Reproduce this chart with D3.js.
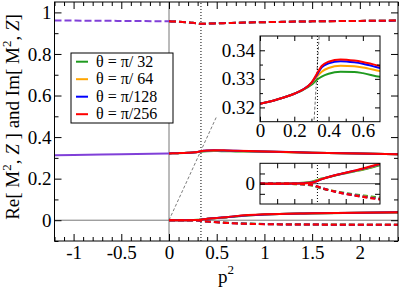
<!DOCTYPE html>
<html lang="en">
<head>
<meta charset="utf-8">
<title>Re and Im of M2, Z vs p2</title>
<script src="https://d3js.org/d3.v7.min.js"></script>
<style>
  body { margin: 0; background: #fff; }
  svg, svg text, svg g { font-family: "Liberation Serif", serif; }
  .tick text { fill: #000; }
  .legend text { white-space: pre; }
</style>
</head>
<body>
<script>
// ---- data ----
var thetaLabels = ["θ = π/ 32", "θ = π/ 64", "θ = π/128", "θ = π/256"];

// p^2 < 0 : all theta coincide
var p2Neg   = [-1.2, -1, -0.5, 0];
var reM2Neg = [0.313, 0.314, 0.318, 0.3213];
var imM2Neg = [0.961, 0.9605, 0.959, 0.957];

// p^2 >= 0
var p2 = [0, 0.1, 0.2, 0.25, 0.3, 0.33, 0.36, 0.4, 0.47, 0.55, 0.6, 0.7, 1, 1.5, 2, 2.4];

var reM2_32  = [0.3213, 0.3228, 0.3248, 0.3261, 0.3279, 0.3296, 0.3308, 0.3318, 0.3325, 0.3324, 0.3320, 0.3307, 0.3295, 0.3245, 0.3205, 0.3175];
var reM2_64  = [0.3213, 0.3228, 0.3248, 0.3262, 0.3284, 0.3306, 0.3325, 0.3338, 0.3346, 0.3344, 0.3340, 0.3327, 0.3302, 0.3248, 0.3207, 0.3177];
var reM2_128 = [0.3213, 0.3228, 0.3248, 0.3262, 0.3286, 0.3312, 0.3340, 0.3354, 0.3362, 0.3358, 0.3353, 0.3338, 0.3308, 0.3250, 0.3209, 0.3178];
var reM2_256 = [0.3213, 0.3228, 0.3248, 0.3262, 0.3287, 0.3316, 0.3345, 0.3360, 0.3368, 0.3364, 0.3359, 0.3345, 0.3310, 0.3252, 0.3210, 0.3180];

var imM2_32  = [0.957, 0.955, 0.952, 0.950, 0.947, 0.9455, 0.9455, 0.9462, 0.9472, 0.9482, 0.9488, 0.950, 0.9530, 0.9568, 0.9590, 0.9608];
var imM2_64  = [0.957, 0.955, 0.952, 0.950, 0.947, 0.9452, 0.9452, 0.9460, 0.9470, 0.9480, 0.9487, 0.950, 0.9530, 0.9568, 0.9590, 0.9608];
var imM2_128 = [0.957, 0.955, 0.952, 0.950, 0.947, 0.9450, 0.9450, 0.9458, 0.9469, 0.9480, 0.9486, 0.950, 0.9530, 0.9568, 0.9590, 0.9608];
var imM2_256 = [0.957, 0.955, 0.952, 0.950, 0.947, 0.9448, 0.9450, 0.9458, 0.9468, 0.9479, 0.9486, 0.950, 0.9530, 0.9568, 0.9590, 0.9610];

var reZ_32  = [0, 0.0001, 0.0004, 0.0009, 0.0020, 0.0034, 0.0050, 0.0066, 0.0093, 0.0120, 0.0136, 0.0180, 0.0275, 0.0328, 0.0358, 0.0375];
var reZ_64  = [0, 0.0000, 0.0003, 0.0007, 0.0015, 0.0028, 0.0047, 0.0066, 0.0094, 0.0123, 0.0141, 0.0188, 0.0278, 0.0330, 0.0360, 0.0377];
var reZ_128 = [0, 0.0000, 0.0002, 0.0005, 0.0011, 0.0024, 0.0045, 0.0065, 0.0095, 0.0126, 0.0145, 0.0193, 0.0280, 0.0331, 0.0361, 0.0378];
var reZ_256 = [0, 0.0000, 0.0001, 0.0004, 0.0009, 0.0022, 0.0044, 0.0065, 0.0096, 0.0128, 0.0148, 0.0197, 0.0282, 0.0332, 0.0362, 0.0380];

var imZ_32  = [0, -0.0001, -0.0004, -0.0008, -0.0018, -0.0033, -0.0048, -0.0062, -0.0085, -0.0106, -0.0117, -0.0138, -0.0180, -0.0203, -0.0213, -0.0218];
var imZ_64  = [0, -0.0000, -0.0003, -0.0006, -0.0014, -0.0028, -0.0045, -0.0062, -0.0088, -0.0111, -0.0123, -0.0147, -0.0186, -0.0207, -0.0216, -0.0221];
var imZ_128 = [0, -0.0000, -0.0002, -0.0005, -0.0011, -0.0026, -0.0044, -0.0063, -0.0090, -0.0114, -0.0127, -0.0152, -0.0189, -0.0209, -0.0218, -0.0222];
var imZ_256 = [0, -0.0000, -0.0001, -0.0004, -0.0009, -0.0025, -0.0043, -0.0063, -0.0091, -0.0116, -0.0130, -0.0155, -0.0191, -0.0210, -0.0219, -0.0223];

var pStar = 0.335;   // dotted vertical marker

// styles
var FONT = "Liberation Serif";
var colors = ["#1f9a1f", "#ffa500", "#0000ff", "#ff0000"];
var negColor = "#8040d8";

var reM2 = [reM2_32, reM2_64, reM2_128, reM2_256];
var imM2 = [imM2_32, imM2_64, imM2_128, imM2_256];
var reZ  = [reZ_32, reZ_64, reZ_128, reZ_256];
var imZ  = [imZ_32, imZ_64, imZ_128, imZ_256];

function pts(xs, ys) { return xs.map(function(v, i) { return [v, ys[i]]; }); }

var W = 399, H = 288;
var svg = d3.select("body").append("svg").attr("width", W).attr("height", H)
  .attr("font-family", FONT);

// ---- main panel ----
var x = d3.scaleLinear().domain([-1.2, 2.4]).range([54.5, 398]);
var y = d3.scaleLinear().domain([-0.1, 1.05]).range([241, 2]);

svg.append("clipPath").attr("id", "clipMain").append("rect")
  .attr("x", x.range()[0]).attr("y", y.range()[1])
  .attr("width", x.range()[1] - x.range()[0]).attr("height", y.range()[0] - y.range()[1]);

// inward ticks on all four sides, labels bottom/left, then the frame
function ticks(g, xs, ys, o) {
  var x0 = xs.range()[0], x1 = xs.range()[1], y0 = ys.range()[0], y1 = ys.range()[1];
  var mk = function(axis, vals, len, tx, ty) {
    var a = g.append("g").attr("transform", "translate(" + tx + "," + ty + ")")
      .call(axis.tickValues(vals).tickSize(-len).tickFormat(""));
    a.select(".domain").remove();
    a.selectAll("line").attr("stroke", "#000");
  };
  mk(d3.axisBottom(xs), o.xMaj, o.maj, 0, y0);
  mk(d3.axisBottom(xs), o.xMin, o.min, 0, y0);
  mk(d3.axisTop(xs), o.xMaj, o.maj, 0, y1);
  mk(d3.axisTop(xs), o.xMin, o.min, 0, y1);
  mk(d3.axisLeft(ys), o.yMaj, o.maj, x0, 0);
  mk(d3.axisLeft(ys), o.yMin, o.min, x0, 0);
  mk(d3.axisRight(ys), o.yMaj, o.maj, x1, 0);
  mk(d3.axisRight(ys), o.yMin, o.min, x1, 0);
  var bl = g.append("g").attr("transform", "translate(0," + y0 + ")")
    .call(d3.axisBottom(xs).tickValues(o.xLab).tickSize(0).tickPadding(o.xPad).tickFormat(function(d) { return String(d); }));
  bl.select(".domain").remove();
  var ll = g.append("g").attr("transform", "translate(" + x0 + ",0)")
    .call(d3.axisLeft(ys).tickValues(o.yLab).tickSize(0).tickPadding(o.yPad).tickFormat(function(d) { return String(d); }));
  ll.select(".domain").remove();
  g.selectAll("g").attr("font-family", FONT).attr("font-size", null);
  g.selectAll(".tick text").attr("font-family", FONT).attr("font-size", o.fs);
  g.append("rect").attr("x", x0).attr("y", y1).attr("width", x1 - x0).attr("height", y0 - y1)
    .attr("fill", "none").attr("stroke", "#000").attr("stroke-width", 1);
}

var main = svg.append("g");
var plot = main.append("g").attr("clip-path", "url(#clipMain)");

// zero lines
plot.append("line").attr("x1", x(0)).attr("x2", x(0)).attr("y1", y(-0.1)).attr("y2", y(1.05))
  .attr("stroke", "#777").attr("stroke-width", 1);
plot.append("line").attr("x1", x(-1.2)).attr("x2", x(2.4)).attr("y1", y(0)).attr("y2", y(0))
  .attr("stroke", "#777").attr("stroke-width", 1);
// dotted marker
plot.append("line").attr("x1", x(pStar)).attr("x2", x(pStar)).attr("y1", y(-0.1)).attr("y2", y(1.05))
  .attr("stroke", "#000").attr("stroke-width", 1).attr("stroke-dasharray", "1,2");
// y = x guide
plot.append("line").attr("x1", x(0)).attr("y1", y(0)).attr("x2", x(0.5)).attr("y2", y(0.5))
  .attr("stroke", "#444").attr("stroke-width", 0.7).attr("stroke-dasharray", "3,2");

var line = d3.line().x(function(d) { return x(d[0]); }).y(function(d) { return y(d[1]); }).curve(d3.curveMonotoneX);

plot.append("path").attr("d", line(pts(p2Neg, reM2Neg))).attr("fill", "none").attr("stroke", negColor).attr("stroke-width", 2);
plot.append("path").attr("d", line(pts(p2Neg, imM2Neg))).attr("fill", "none").attr("stroke", negColor).attr("stroke-width", 2).attr("stroke-dasharray", "7,3");

for (var k = 0; k < 4; k++) {
  plot.append("path").attr("d", line(pts(p2, reM2[k]))).attr("fill", "none").attr("stroke", colors[k]).attr("stroke-width", 2);
  plot.append("path").attr("d", line(pts(p2, imM2[k]))).attr("fill", "none").attr("stroke", colors[k]).attr("stroke-width", 2).attr("stroke-dasharray", "7,3");
  plot.append("path").attr("d", line(pts(p2, reZ[k]))).attr("fill", "none").attr("stroke", colors[k]).attr("stroke-width", 2);
  plot.append("path").attr("d", line(pts(p2, imZ[k]))).attr("fill", "none").attr("stroke", colors[k]).attr("stroke-width", 2).attr("stroke-dasharray", "6,3");
}

ticks(main, x, y, {
  xMaj: [-1, -0.5, 0, 0.5, 1, 1.5, 2], xMin: d3.range(-12, 25).map(function(v) { return v / 10; }).filter(function(v) { return Math.abs(v * 2 - Math.round(v * 2)) > 1e-6; }),
  yMaj: [0, 0.2, 0.4, 0.6, 0.8, 1], yMin: [-0.1, 0.1, 0.3, 0.5, 0.7, 0.9],
  xLab: [-1, -0.5, 0, 0.5, 1, 1.5, 2], yLab: [0, 0.2, 0.4, 0.6, 0.8, 1],
  maj: 7, min: 4, xPad: 5, yPad: 3, fs: 19
});

// axis titles
var ytitle = svg.append("text").attr("transform", "translate(19,117) rotate(-90)")
  .attr("text-anchor", "middle").attr("font-size", 19).attr("font-family", FONT);
ytitle.append("tspan").text("Re[ M");
ytitle.append("tspan").attr("font-size", 13).attr("dy", -8).text("2");
ytitle.append("tspan").attr("dy", 8).text(", ");
ytitle.append("tspan").attr("font-style", "italic").text("Z");
ytitle.append("tspan").text(" ] and Im[ M");
ytitle.append("tspan").attr("font-size", 13).attr("dy", -8).text("2");
ytitle.append("tspan").attr("dy", 8).text(", ");
ytitle.append("tspan").attr("font-style", "italic").text("Z");
ytitle.append("tspan").text("]");

var xtitle = svg.append("text").attr("x", 218).attr("y", 283).attr("font-size", 19).attr("font-family", FONT);
xtitle.append("tspan").text("p");
xtitle.append("tspan").attr("font-size", 13).attr("dy", -9).text("2");

// legend
var lg = svg.append("g").attr("class", "legend");
lg.append("rect").attr("x", 71).attr("y", 53).attr("width", 102).attr("height", 70)
  .attr("fill", "#fff").attr("stroke", "#000").attr("stroke-width", 1);
thetaLabels.forEach(function(t, i) {
  var yy = 61.7 + i * 17.5;
  lg.append("line").attr("x1", 76).attr("x2", 88).attr("y1", yy).attr("y2", yy).attr("stroke", colors[i]).attr("stroke-width", 2);
  lg.append("text").attr("x", 96).attr("y", yy + 5).attr("font-family", FONT).attr("font-size", 16).text(t);
});

// ---- insets ----
function inset(id, xr, yr, xd, yd) {
  var xs = d3.scaleLinear().domain(xd).range(xr);
  var ys = d3.scaleLinear().domain(yd).range(yr);
  var g = svg.append("g").attr("class", "inset");
  g.append("rect").attr("x", xr[0]).attr("y", yr[1]).attr("width", xr[1] - xr[0]).attr("height", yr[0] - yr[1]).attr("fill", "#fff");
  svg.append("clipPath").attr("id", id).append("rect")
    .attr("x", xr[0]).attr("y", yr[1]).attr("width", xr[1] - xr[0]).attr("height", yr[0] - yr[1]);
  var p = g.append("g").attr("clip-path", "url(#" + id + ")");
  return { g: g, p: p, x: xs, y: ys };
}

// inset 1 : Re M2 zoom
var in1 = inset("clip1", [260, 380], [121.7, 36], [0, 0.7], [0.315, 0.345]);
var l1 = d3.line().x(function(d) { return in1.x(d[0]); }).y(function(d) { return in1.y(d[1]); }).curve(d3.curveMonotoneX);
in1.p.append("line").attr("x1", in1.x(0.3)).attr("y1", in1.y(0.3)).attr("x2", in1.x(0.36)).attr("y2", in1.y(0.36))
  .attr("stroke", "#444").attr("stroke-width", 0.8).attr("stroke-dasharray", "3,2");
in1.p.append("line").attr("x1", in1.x(pStar)).attr("x2", in1.x(pStar)).attr("y1", 0).attr("y2", H)
  .attr("stroke", "#000").attr("stroke-width", 1).attr("stroke-dasharray", "1,2");
for (var k = 0; k < 4; k++) {
  in1.p.append("path").attr("d", l1(pts(p2, reM2[k]))).attr("fill", "none").attr("stroke", colors[k]).attr("stroke-width", 2);
}
ticks(in1.g, in1.x, in1.y, {
  xMaj: [0, 0.2, 0.4, 0.6], xMin: [0.1, 0.3, 0.5],
  yMaj: [0.32, 0.33, 0.34], yMin: [0.325, 0.335],
  xLab: [0, 0.2, 0.4, 0.6], yLab: [0.32, 0.33, 0.34],
  maj: 5, min: 3, xPad: 2, yPad: 5, fs: 19
});

// inset 2 : Z zoom
var in2 = inset("clip2", [260, 380], [204, 163.3], [0, 0.7], [-0.02, 0.02]);
var l2 = d3.line().x(function(d) { return in2.x(d[0]); }).y(function(d) { return in2.y(d[1]); }).curve(d3.curveMonotoneX);
in2.p.append("line").attr("x1", in2.x(0)).attr("x2", in2.x(0.7)).attr("y1", in2.y(0)).attr("y2", in2.y(0))
  .attr("stroke", "#555").attr("stroke-width", 1);
in2.p.append("line").attr("x1", in2.x(pStar)).attr("x2", in2.x(pStar)).attr("y1", 0).attr("y2", H)
  .attr("stroke", "#000").attr("stroke-width", 1).attr("stroke-dasharray", "1,2");
for (var k = 0; k < 4; k++) {
  in2.p.append("path").attr("d", l2(pts(p2, reZ[k]))).attr("fill", "none").attr("stroke", colors[k]).attr("stroke-width", 2);
  in2.p.append("path").attr("d", l2(pts(p2, imZ[k]))).attr("fill", "none").attr("stroke", colors[k]).attr("stroke-width", 2.2).attr("stroke-dasharray", "5,3");
}
ticks(in2.g, in2.x, in2.y, {
  xMaj: [0.2, 0.4, 0.6], xMin: [0.1, 0.3, 0.5],
  yMaj: [0], yMin: [-0.01, 0.01],
  xLab: [], yLab: [0],
  maj: 5, min: 5, xPad: 3, yPad: 5, fs: 19
});
</script>
</body>
</html>
